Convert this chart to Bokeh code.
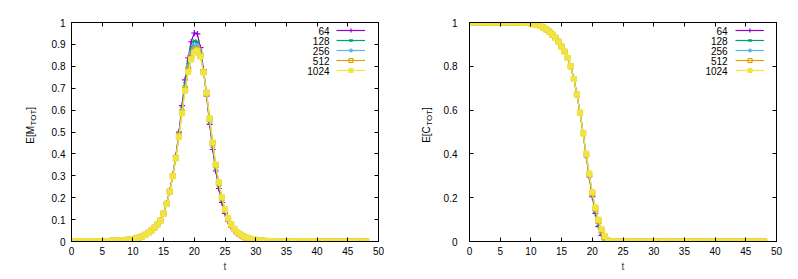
from bokeh.plotting import figure
from bokeh.layouts import row
from bokeh.models import (Range1d, FixedTicker, LinearAxis, NumeralTickFormatter,
                          CustomJSTickFormatter, Label, Legend, LegendItem)
from bokeh.embed import file_html
from bokeh.resources import INLINE

FONT = "Liberation Sans"

T = [0, 0.5, 1, 1.5, 2, 2.5, 3, 3.5, 4, 4.5,
     5, 5.5, 6, 6.5, 7, 7.5, 8, 8.5, 9, 9.5,
     10, 10.5, 11, 11.5, 12, 12.5, 13, 13.5, 14, 14.5,
     15, 15.5, 16, 16.5, 17, 17.5, 18, 18.5, 19, 19.5,
     20, 20.5, 21, 21.5, 22, 22.5, 23, 23.5, 24, 24.5,
     25, 25.5, 26, 26.5, 27, 27.5, 28, 28.5, 29, 29.5,
     30, 30.5, 31, 31.5, 32, 32.5, 33, 33.5, 34, 34.5,
     35, 35.5, 36, 36.5, 37, 37.5, 38, 38.5, 39, 39.5,
     40, 40.5, 41, 41.5, 42, 42.5, 43, 43.5, 44, 44.5,
     45, 45.5, 46, 46.5, 47, 47.5, 48]

SERIES = ["64", "128", "256", "512", "1024"]

M_64 = [0.001, 0.001, 0.001, 0.001, 0.001, 0.001, 0.001, 0.001, 0.001, 0.001,
        0.002, 0.002, 0.002, 0.003, 0.003, 0.004, 0.005, 0.006, 0.007, 0.009,
        0.011, 0.014, 0.018, 0.023, 0.030, 0.039, 0.050, 0.063, 0.078, 0.096,
        0.130, 0.175, 0.232, 0.305, 0.392, 0.500, 0.620, 0.738, 0.838, 0.912,
        0.952, 0.948, 0.885, 0.785, 0.665, 0.535, 0.420, 0.322, 0.242, 0.178,
        0.128, 0.092, 0.066, 0.048, 0.035, 0.026, 0.019, 0.014, 0.010, 0.007,
        0.005, 0.004, 0.003, 0.002, 0.001, 0.001, 0.001, 0.001, 0.001, 0.001,
        0.001, 0.001, 0.001, 0.001, 0.001, 0.001, 0.001, 0.001, 0.001, 0.001,
        0.000, 0.000, 0.000, 0.000, 0.000, 0.000, 0.000, 0.000, 0.000, 0.000,
        0.000, 0.000, 0.000, 0.000, 0.000, 0.000, 0.000]
M_128 = [0.001, 0.001, 0.001, 0.001, 0.001, 0.001, 0.001, 0.001, 0.001, 0.001,
         0.002, 0.002, 0.002, 0.003, 0.003, 0.004, 0.005, 0.006, 0.007, 0.009,
         0.011, 0.014, 0.018, 0.023, 0.030, 0.039, 0.050, 0.063, 0.078, 0.096,
         0.129, 0.173, 0.230, 0.302, 0.387, 0.492, 0.608, 0.720, 0.818, 0.885,
         0.915, 0.912, 0.868, 0.778, 0.672, 0.547, 0.435, 0.336, 0.256, 0.190,
         0.137, 0.098, 0.071, 0.052, 0.038, 0.028, 0.021, 0.015, 0.011, 0.008,
         0.006, 0.004, 0.003, 0.002, 0.002, 0.001, 0.001, 0.001, 0.001, 0.001,
         0.001, 0.001, 0.001, 0.001, 0.001, 0.001, 0.001, 0.001, 0.001, 0.001,
         0.000, 0.000, 0.000, 0.000, 0.000, 0.000, 0.000, 0.000, 0.000, 0.000,
         0.000, 0.000, 0.000, 0.000, 0.000, 0.000, 0.000]
M_256 = [0.001, 0.001, 0.001, 0.001, 0.001, 0.001, 0.001, 0.001, 0.001, 0.001,
         0.002, 0.002, 0.002, 0.003, 0.003, 0.004, 0.005, 0.006, 0.007, 0.009,
         0.011, 0.014, 0.018, 0.023, 0.030, 0.039, 0.050, 0.063, 0.078, 0.096,
         0.128, 0.172, 0.229, 0.300, 0.384, 0.486, 0.598, 0.706, 0.800, 0.862,
         0.893, 0.896, 0.860, 0.776, 0.676, 0.555, 0.443, 0.344, 0.263, 0.196,
         0.142, 0.102, 0.075, 0.055, 0.040, 0.030, 0.022, 0.016, 0.012, 0.009,
         0.006, 0.005, 0.003, 0.002, 0.002, 0.001, 0.001, 0.001, 0.001, 0.001,
         0.001, 0.001, 0.001, 0.001, 0.001, 0.001, 0.001, 0.001, 0.001, 0.001,
         0.000, 0.000, 0.000, 0.000, 0.000, 0.000, 0.000, 0.000, 0.000, 0.000,
         0.000, 0.000, 0.000, 0.000, 0.000, 0.000, 0.000]
M_512 = [0.001, 0.001, 0.001, 0.001, 0.001, 0.001, 0.001, 0.001, 0.001, 0.001,
         0.002, 0.002, 0.002, 0.003, 0.003, 0.004, 0.005, 0.006, 0.007, 0.009,
         0.011, 0.014, 0.018, 0.023, 0.030, 0.039, 0.050, 0.063, 0.078, 0.096,
         0.128, 0.172, 0.228, 0.299, 0.382, 0.481, 0.590, 0.695, 0.785, 0.843,
         0.873, 0.878, 0.850, 0.774, 0.679, 0.560, 0.449, 0.349, 0.268, 0.200,
         0.145, 0.105, 0.077, 0.057, 0.042, 0.031, 0.023, 0.017, 0.012, 0.009,
         0.007, 0.005, 0.004, 0.003, 0.002, 0.002, 0.001, 0.001, 0.001, 0.001,
         0.001, 0.001, 0.001, 0.001, 0.001, 0.001, 0.001, 0.001, 0.001, 0.001,
         0.000, 0.000, 0.000, 0.000, 0.000, 0.000, 0.000, 0.000, 0.000, 0.000,
         0.000, 0.000, 0.000, 0.000, 0.000, 0.000, 0.000]
M_1024 = [0.001, 0.001, 0.001, 0.001, 0.001, 0.001, 0.001, 0.001, 0.001, 0.001,
          0.002, 0.002, 0.002, 0.003, 0.003, 0.004, 0.005, 0.006, 0.007, 0.009,
          0.011, 0.014, 0.018, 0.023, 0.030, 0.039, 0.050, 0.063, 0.078, 0.096,
          0.128, 0.172, 0.228, 0.298, 0.380, 0.478, 0.585, 0.688, 0.775, 0.832,
          0.862, 0.872, 0.845, 0.772, 0.680, 0.562, 0.452, 0.352, 0.270, 0.202,
          0.147, 0.106, 0.078, 0.058, 0.043, 0.032, 0.024, 0.018, 0.013, 0.010,
          0.007, 0.005, 0.004, 0.003, 0.002, 0.002, 0.001, 0.001, 0.001, 0.001,
          0.001, 0.001, 0.001, 0.001, 0.001, 0.001, 0.001, 0.001, 0.001, 0.001,
          0.000, 0.000, 0.000, 0.000, 0.000, 0.000, 0.000, 0.000, 0.000, 0.000,
          0.000, 0.000, 0.000, 0.000, 0.000, 0.000, 0.000]

C_64 = [1.000, 1.000, 1.000, 1.000, 1.000, 1.000, 1.000, 1.000, 1.000, 1.000,
        1.000, 1.000, 1.000, 1.000, 1.000, 1.000, 1.000, 1.000, 0.999, 0.998,
        0.996, 0.993, 0.989, 0.984, 0.978, 0.969, 0.958, 0.945, 0.930, 0.912,
        0.890, 0.866, 0.838, 0.800, 0.742, 0.672, 0.588, 0.495, 0.390, 0.296,
        0.205, 0.128, 0.068, 0.028, 0.008, 0.001, 0.000, 0.000, 0.000, 0.000,
        0.000, 0.000, 0.000, 0.000, 0.000, 0.000, 0.000, 0.000, 0.000, 0.000,
        0.000, 0.000, 0.000, 0.000, 0.000, 0.000, 0.000, 0.000, 0.000, 0.000,
        0.000, 0.000, 0.000, 0.000, 0.000, 0.000, 0.000, 0.000, 0.000, 0.000,
        0.000, 0.000, 0.000, 0.000, 0.000, 0.000, 0.000, 0.000, 0.000, 0.000,
        0.000, 0.000, 0.000, 0.000, 0.000, 0.000, 0.000]
C_128 = [1.000, 1.000, 1.000, 1.000, 1.000, 1.000, 1.000, 1.000, 1.000, 1.000,
         1.000, 1.000, 1.000, 1.000, 1.000, 1.000, 1.000, 1.000, 0.999, 0.998,
         0.996, 0.993, 0.989, 0.984, 0.978, 0.969, 0.958, 0.945, 0.930, 0.912,
         0.890, 0.866, 0.838, 0.800, 0.742, 0.672, 0.588, 0.495, 0.394, 0.301,
         0.212, 0.137, 0.079, 0.037, 0.013, 0.003, 0.000, 0.000, 0.000, 0.000,
         0.000, 0.000, 0.000, 0.000, 0.000, 0.000, 0.000, 0.000, 0.000, 0.000,
         0.000, 0.000, 0.000, 0.000, 0.000, 0.000, 0.000, 0.000, 0.000, 0.000,
         0.000, 0.000, 0.000, 0.000, 0.000, 0.000, 0.000, 0.000, 0.000, 0.000,
         0.000, 0.000, 0.000, 0.000, 0.000, 0.000, 0.000, 0.000, 0.000, 0.000,
         0.000, 0.000, 0.000, 0.000, 0.000, 0.000, 0.000]
C_256 = [1.000, 1.000, 1.000, 1.000, 1.000, 1.000, 1.000, 1.000, 1.000, 1.000,
         1.000, 1.000, 1.000, 1.000, 1.000, 1.000, 1.000, 1.000, 0.999, 0.998,
         0.996, 0.993, 0.989, 0.984, 0.978, 0.969, 0.958, 0.945, 0.930, 0.912,
         0.890, 0.866, 0.838, 0.800, 0.742, 0.672, 0.588, 0.495, 0.396, 0.304,
         0.217, 0.144, 0.087, 0.045, 0.017, 0.004, 0.001, 0.000, 0.000, 0.000,
         0.000, 0.000, 0.000, 0.000, 0.000, 0.000, 0.000, 0.000, 0.000, 0.000,
         0.000, 0.000, 0.000, 0.000, 0.000, 0.000, 0.000, 0.000, 0.000, 0.000,
         0.000, 0.000, 0.000, 0.000, 0.000, 0.000, 0.000, 0.000, 0.000, 0.000,
         0.000, 0.000, 0.000, 0.000, 0.000, 0.000, 0.000, 0.000, 0.000, 0.000,
         0.000, 0.000, 0.000, 0.000, 0.000, 0.000, 0.000]
C_512 = [1.000, 1.000, 1.000, 1.000, 1.000, 1.000, 1.000, 1.000, 1.000, 1.000,
         1.000, 1.000, 1.000, 1.000, 1.000, 1.000, 1.000, 1.000, 0.999, 0.998,
         0.996, 0.993, 0.989, 0.984, 0.978, 0.969, 0.958, 0.945, 0.930, 0.912,
         0.890, 0.866, 0.838, 0.800, 0.742, 0.672, 0.588, 0.495, 0.398, 0.307,
         0.221, 0.150, 0.094, 0.051, 0.021, 0.005, 0.001, 0.000, 0.000, 0.000,
         0.000, 0.000, 0.000, 0.000, 0.000, 0.000, 0.000, 0.000, 0.000, 0.000,
         0.000, 0.000, 0.000, 0.000, 0.000, 0.000, 0.000, 0.000, 0.000, 0.000,
         0.000, 0.000, 0.000, 0.000, 0.000, 0.000, 0.000, 0.000, 0.000, 0.000,
         0.000, 0.000, 0.000, 0.000, 0.000, 0.000, 0.000, 0.000, 0.000, 0.000,
         0.000, 0.000, 0.000, 0.000, 0.000, 0.000, 0.000]
C_1024 = [1.000, 1.000, 1.000, 1.000, 1.000, 1.000, 1.000, 1.000, 1.000, 1.000,
          1.000, 1.000, 1.000, 1.000, 1.000, 1.000, 1.000, 1.000, 0.999, 0.998,
          0.996, 0.993, 0.989, 0.984, 0.978, 0.969, 0.958, 0.945, 0.930, 0.912,
          0.890, 0.866, 0.838, 0.800, 0.742, 0.672, 0.588, 0.495, 0.400, 0.310,
          0.225, 0.155, 0.100, 0.057, 0.025, 0.007, 0.001, 0.000, 0.000, 0.000,
          0.000, 0.000, 0.000, 0.000, 0.000, 0.000, 0.000, 0.000, 0.000, 0.000,
          0.000, 0.000, 0.000, 0.000, 0.000, 0.000, 0.000, 0.000, 0.000, 0.000,
          0.000, 0.000, 0.000, 0.000, 0.000, 0.000, 0.000, 0.000, 0.000, 0.000,
          0.000, 0.000, 0.000, 0.000, 0.000, 0.000, 0.000, 0.000, 0.000, 0.000,
          0.000, 0.000, 0.000, 0.000, 0.000, 0.000, 0.000]

X_TICKS = [0, 5, 10, 15, 20, 25, 30, 35, 40, 45, 50]
Y_TICKS_M = [0, 0.1, 0.2, 0.3, 0.4, 0.5, 0.6, 0.7, 0.8, 0.9, 1]
Y_TICKS_C = [0, 0.2, 0.4, 0.6, 0.8, 1]

COLORS = ["#9400d3", "#009e73", "#56b4e9", "#e69f00", "#f0e442"]
MARKERS = ["cross", "x", "asterisk", "square", "square"]
MSIZES = [6, 5, 5, 5, 5]
MFILL = [None, None, None, None, "#f0e442"]

H = 279
LAB_W = 40
B_TOP = 22
B_BOT = 38
FRAME_H = H - B_TOP - B_BOT


def make_label_fig(main, xc, junction):
    """Narrow figure that only carries the rotated y-axis title.
    The main part ends at the junction; the subscript starts there."""
    f = figure(width=LAB_W, height=H, output_backend="svg",
               toolbar_location=None, x_range=Range1d(0, LAB_W),
               y_range=Range1d(0, H), min_border=0,
               x_axis_location=None, y_axis_location=None,
               background_fill_color="white", border_fill_color="white")
    f.grid.visible = False
    f.outline_line_color = None
    common = dict(angle=90, angle_units="deg", text_baseline="middle",
                  text_font=FONT, text_color="black")
    f.add_layout(Label(x=xc, y=junction, text=main, text_align="right",
                       text_font_size="10px", **common))
    f.add_layout(Label(x=xc + 2.5, y=junction + 0.5, text="TOT",
                       text_align="left", text_font_size="8px", **common))
    f.add_layout(Label(x=xc, y=junction + 20.5, text="]", text_align="left",
                       text_font_size="10px", **common))
    return f


def make_fig(width, left, right, ys, yticks, tick_standoff):
    p = figure(width=width, height=H, output_backend="svg",
               toolbar_location=None, x_range=Range1d(0, 50),
               y_range=Range1d(0, 1), min_border_left=left,
               min_border_right=right, min_border_top=B_TOP,
               min_border_bottom=B_BOT, background_fill_color="white",
               border_fill_color="white")
    p.grid.visible = False
    p.outline_line_color = "black"
    p.outline_line_alpha = 1
    p.outline_line_width = 1

    p.xaxis.ticker = FixedTicker(ticks=X_TICKS)
    p.yaxis.ticker = FixedTicker(ticks=yticks)
    p.yaxis.formatter = NumeralTickFormatter(format="0.[0]")
    for ax in (p.xaxis[0], p.yaxis[0]):
        ax.major_tick_in = 4
        ax.major_tick_out = 0
        ax.minor_tick_in = 0
        ax.minor_tick_out = 0
        ax.axis_line_color = "black"
        ax.major_tick_line_color = "black"
        ax.major_label_text_font = FONT
        ax.major_label_text_font_size = "10px"
        ax.major_label_text_color = "black"
    p.xaxis.major_label_standoff = 5
    p.yaxis.major_label_standoff = tick_standoff
    p.xaxis.axis_label = "t"
    p.xaxis.axis_label_text_font = FONT
    p.xaxis.axis_label_text_font_size = "10px"
    p.xaxis.axis_label_text_font_style = "normal"
    p.xaxis.axis_label_standoff = 3

    # mirrored ticks (top/right), no labels
    blank = CustomJSTickFormatter(code="return ''")
    top = LinearAxis(ticker=FixedTicker(ticks=X_TICKS), formatter=blank)
    rgt = LinearAxis(ticker=FixedTicker(ticks=yticks), formatter=blank)
    for ax in (top, rgt):
        ax.major_tick_in = 4
        ax.major_tick_out = 0
        ax.minor_tick_in = 0
        ax.minor_tick_out = 0
        ax.major_label_standoff = 0
        ax.axis_line_color = "black"
    p.add_layout(top, "above")
    p.add_layout(rgt, "right")

    items = []
    for name, y, c, m, s, f in zip(SERIES, ys, COLORS, MARKERS, MSIZES, MFILL):
        lr = p.line(T, y, line_color=c, line_width=1.2)
        sr = p.scatter(T, y, marker=m, size=s, line_color=c,
                       fill_color=f, line_width=1.2)
        items.append(LegendItem(label=" ", renderers=[lr, sr]))

    # gnuplot-style key: sample lines from the legend, labels right-aligned
    # to their left
    fw = width - left - right
    row_h = 10
    legend = Legend(items=items, location=(fw - 44, 164),
                    label_text_font=FONT, label_text_font_size="8px",
                    glyph_width=29, glyph_height=row_h, label_height=row_h,
                    label_standoff=0, spacing=0, padding=2, margin=0,
                    background_fill_alpha=0, border_line_alpha=0)
    p.add_layout(legend)
    x_txt = (fw - 49) / fw * 50
    for i, name in enumerate(SERIES):
        yc = (FRAME_H - (8 + row_h * i)) / FRAME_H
        p.add_layout(Label(x=x_txt, y=yc, text=name, text_align="right",
                           text_baseline="middle", text_font=FONT,
                           text_font_size="10px", text_color="black"))
    return p


lab1 = make_label_fig("E[M", 30, 147.3)
p1 = make_fig(400 - LAB_W, 31, 22, [M_64, M_128, M_256, M_512, M_1024],
              Y_TICKS_M, 6)
lab2 = make_label_fig("E[C", 26, 146.9)
p2 = make_fig(398 - LAB_W, 28, 22, [C_64, C_128, C_256, C_512, C_1024],
              Y_TICKS_C, 12)

p = row(lab1, p1, lab2, p2)
open("out.html", "w").write(file_html(p, INLINE))
